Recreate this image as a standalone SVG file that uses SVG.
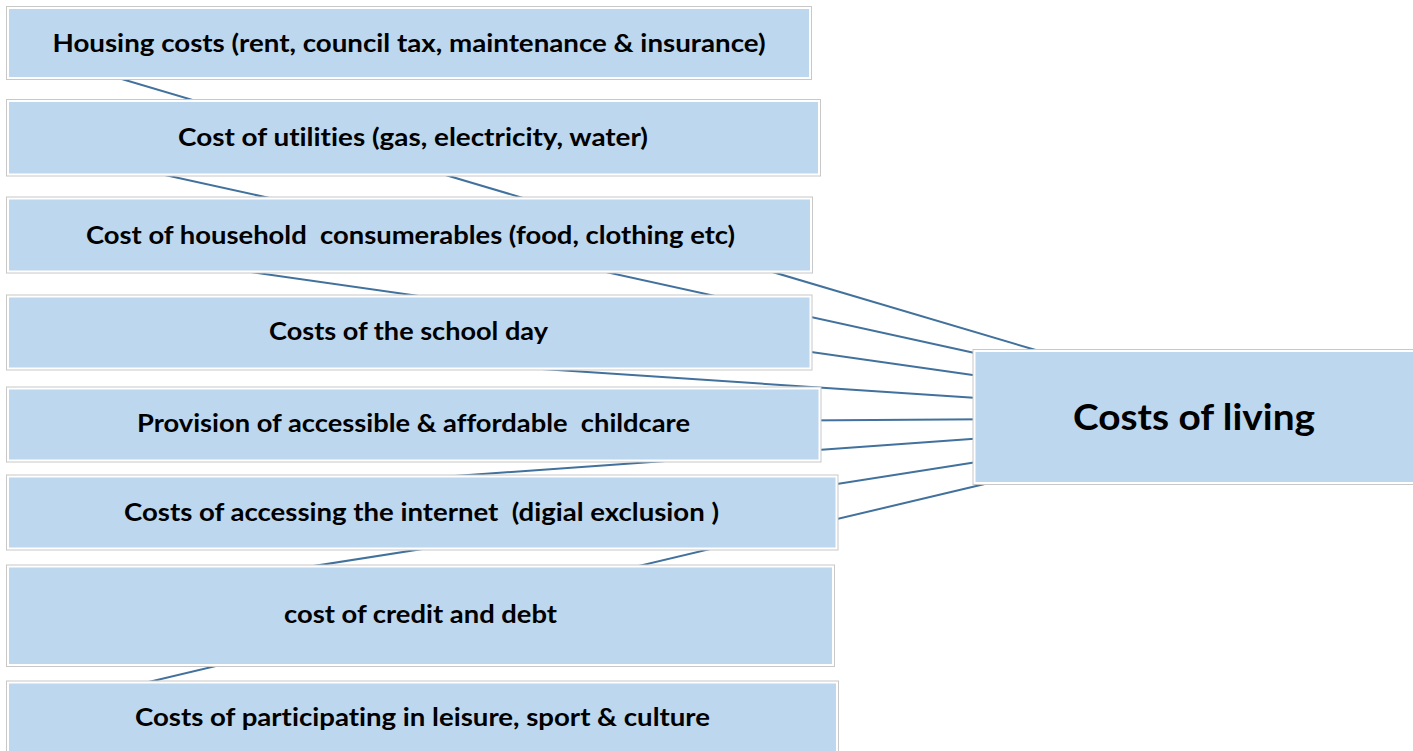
<svg xmlns="http://www.w3.org/2000/svg" width="1413" height="751" viewBox="0 0 1413 751">
<style>
.o{fill:#ffffff;stroke:#c8c8c8;stroke-width:1}
.i{fill:#bdd7ee;stroke:none}
.t{font-family:Lato,"Liberation Sans",sans-serif;font-weight:bold;font-size:24px;fill:#000;text-anchor:middle;white-space:pre;font-variant-ligatures:none;font-feature-settings:"liga" 0}
.tb{font-size:37px}
.c line{stroke:#41719c;stroke-width:2;fill:none}
</style>
<rect width="1413" height="751" fill="#ffffff"/>
<g id="connectors" class="c">
<line x1="60" y1="60.7" x2="1040" y2="351.3"/>
<line x1="100" y1="160.8" x2="985" y2="355.3"/>
<line x1="100" y1="250.5" x2="985" y2="376.7"/>
<line x1="100" y1="339.5" x2="985" y2="398.5"/>
<line x1="100" y1="425.1" x2="985" y2="419.2"/>
<line x1="100" y1="501.4" x2="985" y2="438.1"/>
<line x1="100" y1="599.5" x2="985" y2="460.8"/>
<line x1="60" y1="703" x2="990" y2="482.8"/>
</g>
<g id="n1">
<rect class="o" x="6.5" y="6.5" width="805" height="73"/>
<rect class="i" x="9" y="9" width="800" height="68"/>
<text class="t" x="409" y="51.5" textLength="713" lengthAdjust="spacingAndGlyphs">Housing costs (rent, council tax, maintenance &amp; insurance)</text>
</g>
<g id="n2">
<rect class="o" x="6.5" y="99.5" width="814" height="76.5"/>
<rect class="i" x="9" y="102" width="809" height="71.5"/>
<text class="t" x="413" y="145.7" textLength="470" lengthAdjust="spacingAndGlyphs">Cost of utilities (gas, electricity, water)</text>
</g>
<g id="n3">
<rect class="o" x="6.5" y="197" width="806" height="76"/>
<rect class="i" x="9" y="199.5" width="801" height="71"/>
<text class="t" x="410.5" y="243.5" textLength="649" lengthAdjust="spacingAndGlyphs">Cost of household  consumerables (food, clothing etc)</text>
</g>
<g id="n4">
<rect class="o" x="6.5" y="295" width="805.5" height="75"/>
<rect class="i" x="9" y="297.5" width="800.5" height="70"/>
<text class="t" x="408.5" y="339.5" textLength="279" lengthAdjust="spacingAndGlyphs">Costs of the school day</text>
</g>
<g id="n5">
<rect class="o" x="6.5" y="387" width="814.5" height="75"/>
<rect class="i" x="9" y="389.5" width="809.5" height="70"/>
<text class="t" x="413.5" y="431.5" textLength="553" lengthAdjust="spacingAndGlyphs">Provision of accessible &amp; affordable  childcare</text>
</g>
<g id="n6">
<rect class="o" x="6.5" y="475" width="831.5" height="75"/>
<rect class="i" x="9" y="477.5" width="826.5" height="70"/>
<text class="t" x="421.5" y="520.5" textLength="595" lengthAdjust="spacingAndGlyphs">Costs of accessing the internet  (digial exclusion )</text>
</g>
<g id="n7">
<rect class="o" x="6.5" y="565" width="828" height="101.5"/>
<rect class="i" x="9" y="567.5" width="823" height="96.5"/>
<text class="t" x="420.5" y="622.5" textLength="273" lengthAdjust="spacingAndGlyphs">cost of credit and debt</text>
</g>
<g id="n8">
<rect class="o" x="6.5" y="681" width="832" height="74"/>
<rect class="i" x="9" y="683.5" width="827" height="69"/>
<text class="t" x="422.5" y="725.5" textLength="575" lengthAdjust="spacingAndGlyphs">Costs of participating in leisure, sport &amp; culture</text>
</g>
<g id="root">
<rect class="o" x="973" y="349.5" width="447" height="135"/>
<rect class="i" x="975.5" y="352" width="442" height="130"/>
<text class="t tb" x="1194" y="430" textLength="242" lengthAdjust="spacingAndGlyphs">Costs of living</text>
</g>
</svg>
